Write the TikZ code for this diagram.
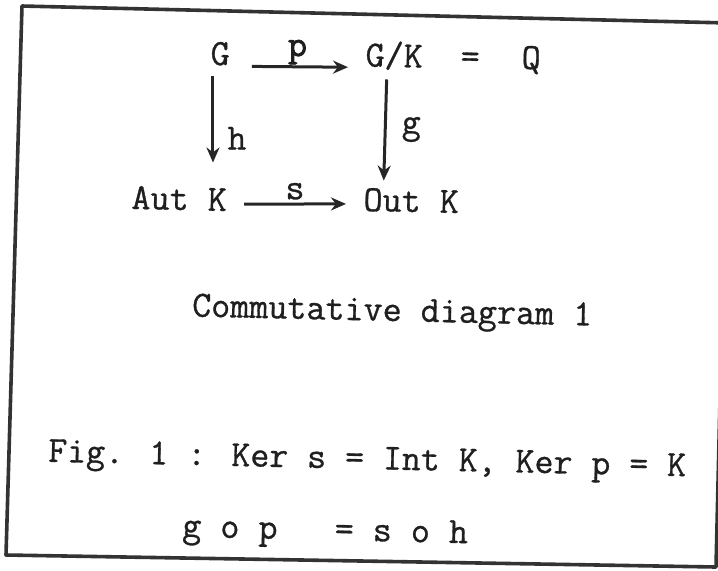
\documentclass[tikz,border=0pt]{standalone}
\usepackage{fontspec}
\newfontfamily\twfont{Latin Modern Mono}[FakeBold=0.8]
\newfontfamily\twheavy{Latin Modern Mono}[FakeBold=2]
\usetikzlibrary{arrows.meta,positioning}

\begin{document}
\begin{tikzpicture}[x=0.5pt,y=-0.5pt,
  txt/.style={inner sep=0pt,anchor=base,rotate=-1.3,text=black!88,font=\twfont\fontsize{18.5}{20}\selectfont},
  lbl/.style={inner sep=1.5pt,text=black!88,font=\twfont\fontsize{18.5}{20}\selectfont},
  arr/.style={-{Stealth[length=7.5pt,width=6.5pt]},line width=1.5pt,draw=black!85},
  frame/.style={draw=black!80,line width=1.8pt,line join=round}]
\useasboundingbox (0,0) rectangle (718,570);
\clip (0,0) rectangle (718,570);
\draw[frame] (22,6) -- (729,23) -- (716,567) -- (6,555) -- cycle;
\node[txt] (G) at (220,65) {G};
\node[txt] (GK) at (394,67) {G/K};
\node[txt] (eq) at (470,68) {=};
\node[txt] (Q) at (531,69) {Q};
\node[txt] (aut) at (179,210) {Aut K};
\node[txt] (out) at (411,212) {Out K};
\draw[arr,shorten <=11pt,shorten >=8.5pt] ([yshift=-0.5pt]G.base east) -- ([yshift=-0.5pt]GK.base west) node[lbl,midway,above=-1pt,font=\twheavy\fontsize{18.5}{20}\selectfont] {p};
\draw[arr,shorten <=5pt,shorten >=12pt] ([xshift=-3.5pt]G.south) -- ([xshift=-3.5pt]G.south |- aut.north) node[lbl,pos=0.6,right=5pt] {h};
\draw[arr,shorten <=4.5pt,shorten >=4pt] ([xshift=-3.5pt]GK.south) -- ([xshift=-14pt]out.north) node[lbl,pos=0.5,right=6pt] {g};
\draw[arr,shorten <=8.5pt,shorten >=8.5pt] ([yshift=3.5pt]aut.base east) -- ([yshift=3.5pt]out.base west) node[lbl,midway,above] {s};
\node[txt] (cap) at (392,321) {Commutative diagram 1};
\node[txt,font=\twfont\fontsize{18.4}{20}\selectfont] (fig) at (367,469) {Fig. 1 : Ker s = Int K, Ker p = K};
\node[txt] (gop) at (325,540) {g o p\ \ \ = s o h};
\end{tikzpicture}
\end{document}
